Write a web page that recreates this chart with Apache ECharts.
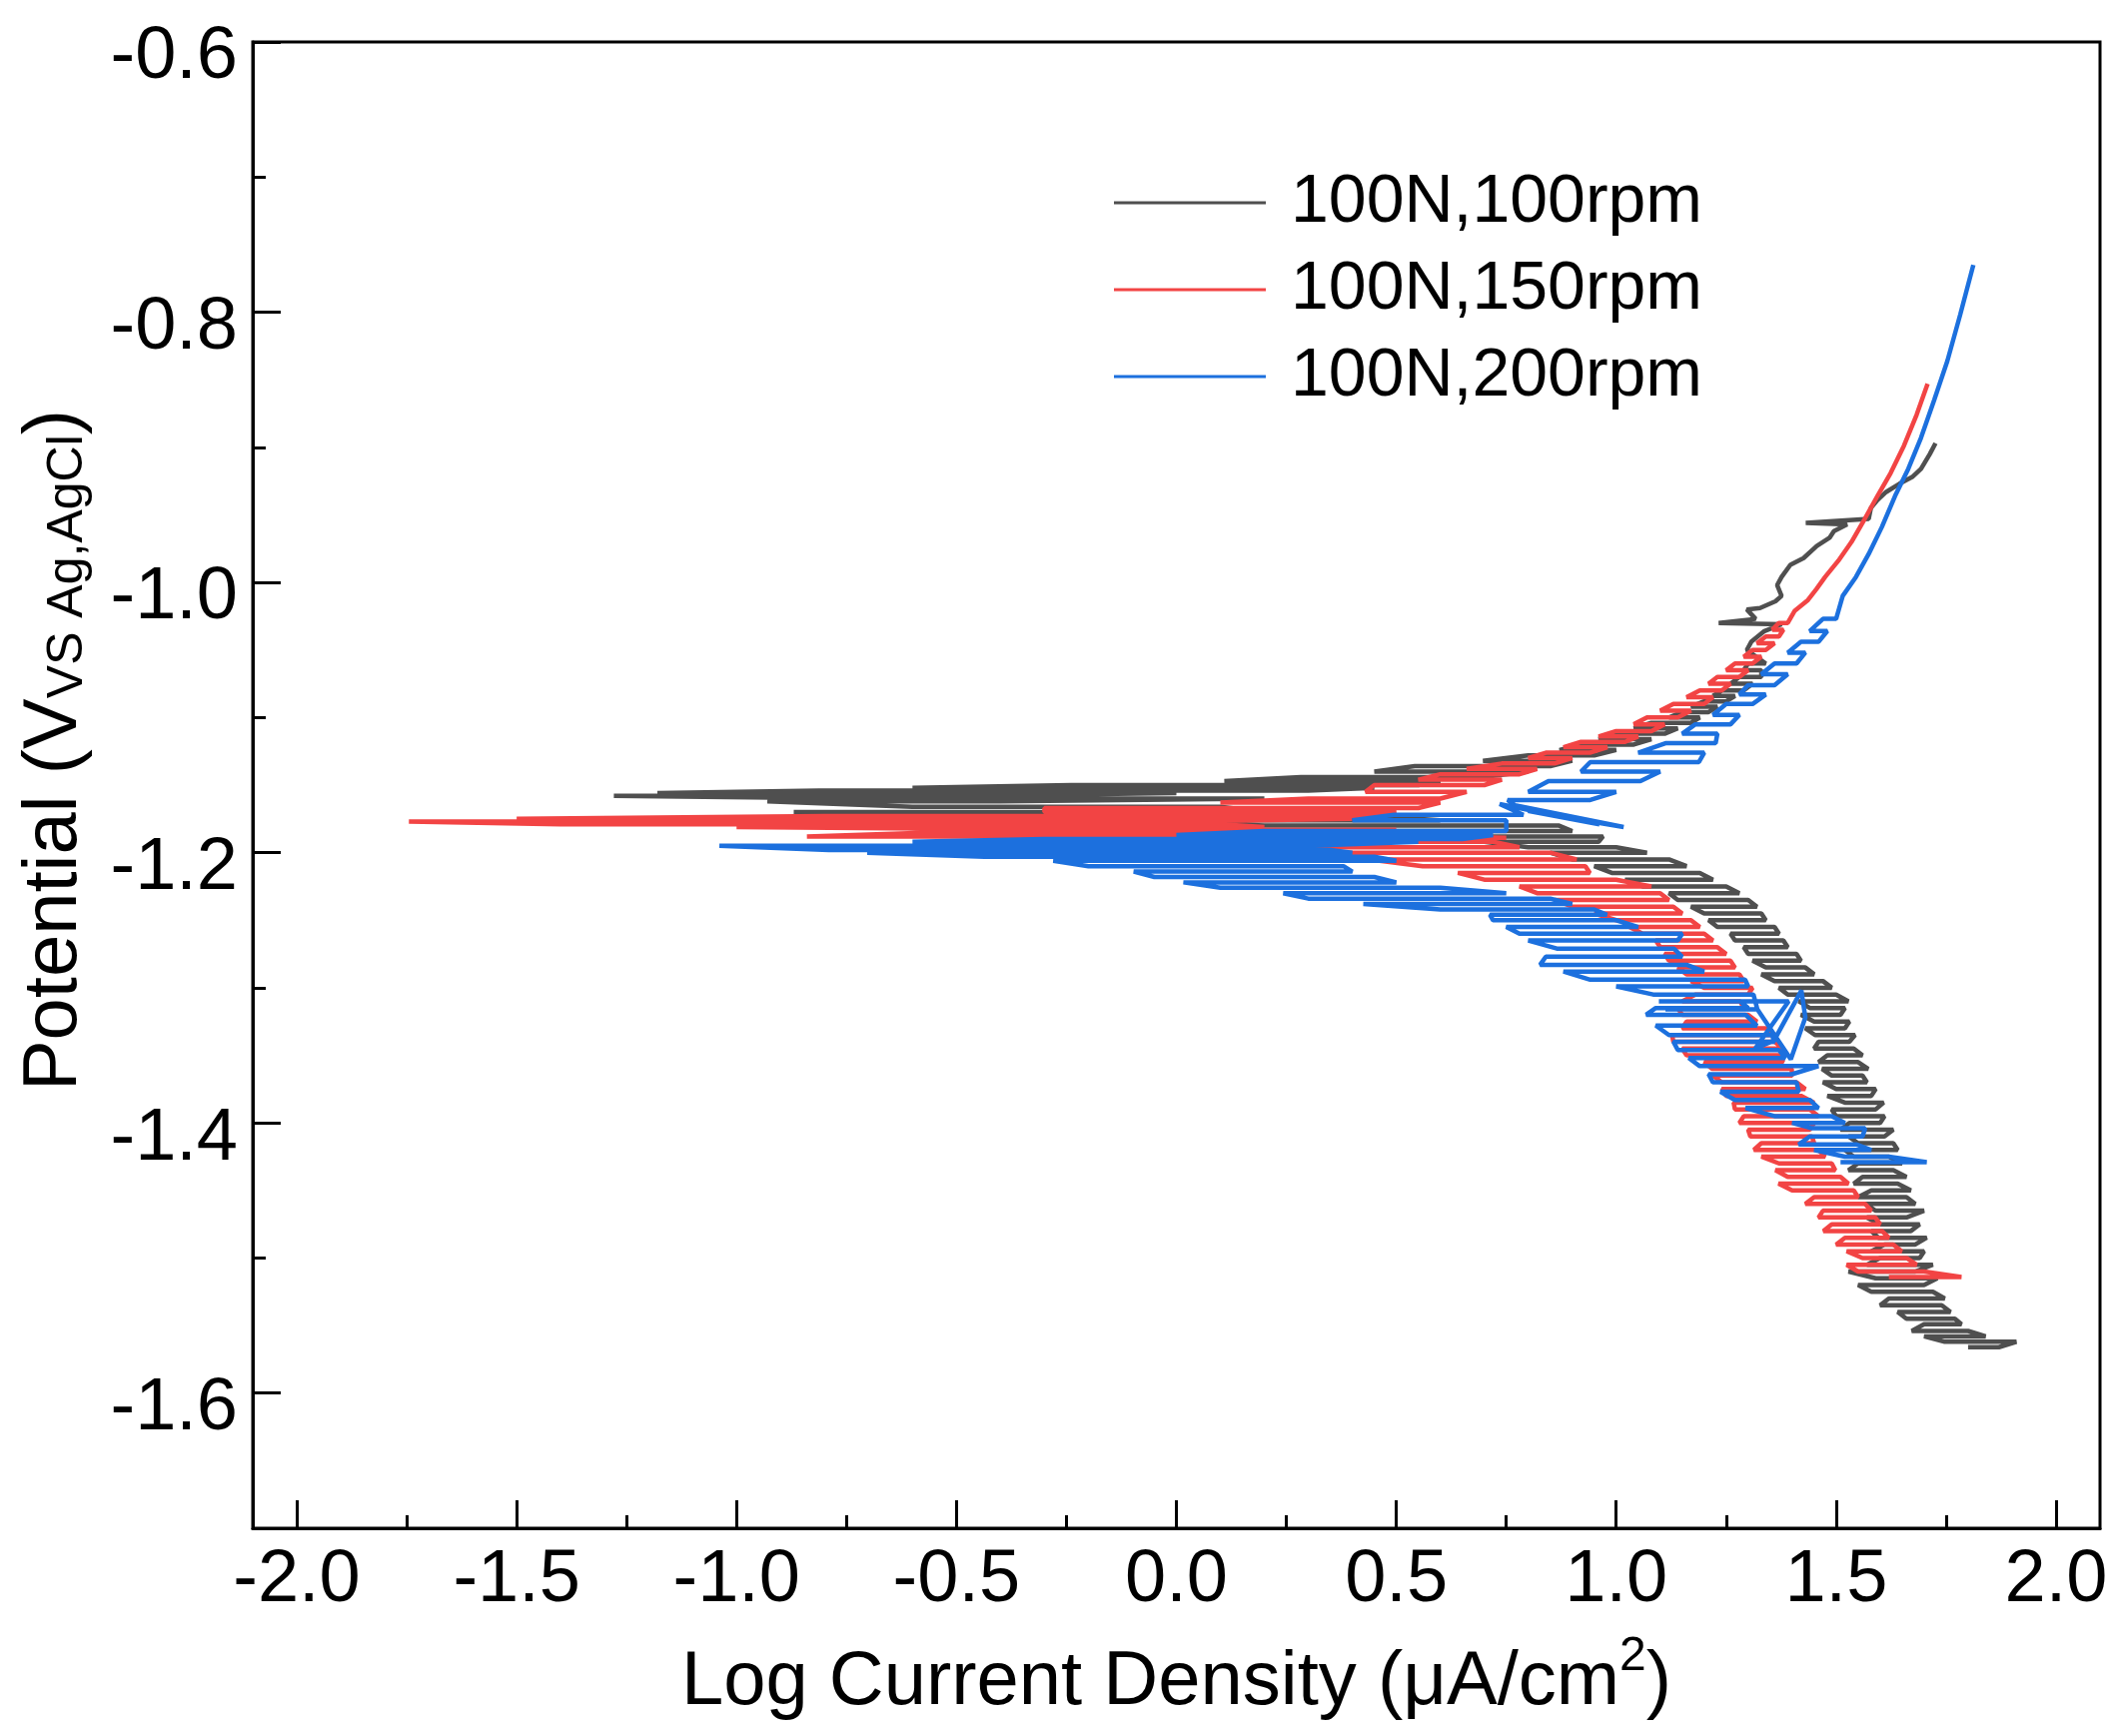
<!DOCTYPE html>
<html>
<head>
<meta charset="utf-8">
<title>Tafel curves</title>
<script src="https://cdn.jsdelivr.net/npm/echarts@6/dist/echarts.min.js"></script>
<style>
  html, body { margin: 0; padding: 0; background: #fff; }
  #chart { width: 2127px; height: 1738px; }
</style>
</head>
<body>
<div id="chart"></div>
<script>
// tick positions
var xMajorTicks = [-2.0, -1.5, -1.0, -0.5, 0.0, 0.5, 1.0, 1.5, 2.0];
var xMinorTicks = [-1.75, -1.25, -0.75, -0.25, 0.25, 0.75, 1.25, 1.75];
var yMajorTicks = [-1.6, -1.4, -1.2, -1.0, -0.8, -0.6];
var yMinorTicks = [-1.7, -1.5, -1.3, -1.1, -0.9, -0.7];

var seriesNames = ['100N,100rpm', '100N,150rpm', '100N,200rpm'];

// bands are [potential, left log i, right log i], read level by level
var black100Cathodic = [
  [-1.566, 1.80, 1.87], [-1.562, 1.747, 1.910], [-1.558, 1.70, 1.84], [-1.554, 1.672, 1.80],
  [-1.549, 1.70, 1.785], [-1.545, 1.66, 1.77], [-1.540, 1.64, 1.76], [-1.535, 1.60, 1.74],
  [-1.530, 1.62, 1.747], [-1.525, 1.58, 1.72], [-1.520, 1.55, 1.70], [-1.515, 1.59, 1.73],
  [-1.510, 1.528, 1.68], [-1.505, 1.57, 1.72], [-1.500, 1.60, 1.69], [-1.495, 1.58, 1.70],
  [-1.490, 1.61, 1.68], [-1.485, 1.596, 1.706], [-1.480, 1.58, 1.67], [-1.475, 1.60, 1.69],
  [-1.470, 1.57, 1.66], [-1.465, 1.59, 1.70], [-1.460, 1.566, 1.68], [-1.455, 1.55, 1.66],
  [-1.450, 1.58, 1.67], [-1.445, 1.54, 1.64], [-1.440, 1.56, 1.66], [-1.435, 1.528, 1.63],
  [-1.430, 1.55, 1.65], [-1.425, 1.54, 1.62], [-1.420, 1.52, 1.64], [-1.415, 1.55, 1.63],
  [-1.410, 1.528, 1.61], [-1.405, 1.51, 1.63], [-1.400, 1.53, 1.60], [-1.395, 1.50, 1.61],
  [-1.390, 1.49, 1.59], [-1.385, 1.52, 1.608], [-1.380, 1.48, 1.58], [-1.375, 1.50, 1.59],
  [-1.370, 1.47, 1.57], [-1.365, 1.49, 1.56], [-1.360, 1.468, 1.573], [-1.355, 1.46, 1.55],
  [-1.350, 1.48, 1.56], [-1.345, 1.45, 1.54], [-1.340, 1.46, 1.53], [-1.335, 1.452, 1.543],
  [-1.330, 1.43, 1.52], [-1.325, 1.45, 1.53], [-1.320, 1.42, 1.51], [-1.315, 1.44, 1.52],
  [-1.310, 1.415, 1.528], [-1.305, 1.39, 1.50], [-1.300, 1.37, 1.49], [-1.295, 1.36, 1.47],
  [-1.290, 1.33, 1.45], [-1.285, 1.34, 1.43], [-1.280, 1.31, 1.42], [-1.275, 1.30, 1.41],
  [-1.270, 1.29, 1.39], [-1.265, 1.27, 1.38], [-1.260, 1.26, 1.37], [-1.255, 1.23, 1.36],
  [-1.250, 1.21, 1.34], [-1.245, 1.20, 1.33], [-1.240, 1.17, 1.32], [-1.235, 1.14, 1.30],
  [-1.230, 1.12, 1.28], [-1.225, 1.06, 1.25], [-1.220, 1.02, 1.22], [-1.215, 0.99, 1.19],
  [-1.210, 0.95, 1.16], [-1.205, 0.90, 1.12], [-1.200, 0.85, 1.07], [-1.196, 0.80, 1.00],
  [-1.192, 0.70, 0.96], [-1.188, 0.60, 0.97], [-1.184, 0.40, 0.90], [-1.180, 0.20, 0.87],
  [-1.176, -0.10, 0.60], [-1.172, -0.50, 0.40], [-1.170, -0.87, 0.20], [-1.166, -0.60, 0.10],
  [-1.162, -0.93, -0.40], [-1.160, -0.715, 0.20], [-1.158, -1.279, -0.50], [-1.156, -1.18, 0.00],
  [-1.154, -0.813, 0.30], [-1.152, -0.60, 0.45], [-1.150, -0.239, 0.55], [-1.147, 0.109, 0.60],
  [-1.144, 0.283, 0.70], [-1.140, 0.45, 0.80], [-1.136, 0.542, 0.85], [-1.132, 0.697, 0.90],
  [-1.128, 0.80, 0.95], [-1.124, 0.871, 1.00], [-1.120, 0.92, 1.04], [-1.116, 0.96, 1.08],
  [-1.112, 1.00, 1.11], [-1.108, 1.04, 1.14], [-1.104, 1.08, 1.17], [-1.100, 1.12, 1.19],
  [-1.096, 1.15, 1.21], [-1.092, 1.17, 1.23], [-1.088, 1.20, 1.25], [-1.084, 1.22, 1.27],
  [-1.080, 1.24, 1.29], [-1.075, 1.26, 1.31], [-1.070, 1.28, 1.33], [-1.065, 1.29, 1.33],
  [-1.060, 1.30, 1.34]
];
var black100Anodic = [
  [1.297, -1.050], [1.307, -1.044], [1.337, -1.036], [1.376, -1.031], [1.233, -1.030],
  [1.317, -1.027], [1.297, -1.020], [1.327, -1.019], [1.362, -1.014], [1.376, -1.010],
  [1.366, -1.002], [1.376, -0.996], [1.396, -0.987], [1.426, -0.982], [1.456, -0.973],
  [1.485, -0.967], [1.495, -0.962], [1.525, -0.957], [1.431, -0.956], [1.574, -0.953],
  [1.579, -0.945], [1.594, -0.939], [1.614, -0.933], [1.644, -0.927], [1.673, -0.922],
  [1.693, -0.916], [1.713, -0.905], [1.726, -0.897]
];

var red150Cathodic = [
  [-1.514, 1.62, 1.785], [-1.510, 1.55, 1.70], [-1.505, 1.524, 1.683], [-1.500, 1.56, 1.66],
  [-1.495, 1.524, 1.649], [-1.490, 1.50, 1.63], [-1.485, 1.52, 1.62], [-1.480, 1.471, 1.604],
  [-1.475, 1.49, 1.60], [-1.470, 1.46, 1.589], [-1.465, 1.47, 1.58], [-1.460, 1.43, 1.566],
  [-1.455, 1.45, 1.55], [-1.450, 1.40, 1.54], [-1.445, 1.369, 1.528], [-1.440, 1.39, 1.51],
  [-1.435, 1.362, 1.498], [-1.430, 1.37, 1.49], [-1.425, 1.33, 1.475], [-1.420, 1.313, 1.46],
  [-1.415, 1.33, 1.45], [-1.410, 1.305, 1.445], [-1.405, 1.30, 1.44], [-1.400, 1.28, 1.45],
  [-1.395, 1.29, 1.46], [-1.390, 1.27, 1.44], [-1.385, 1.267, 1.45], [-1.380, 1.25, 1.42],
  [-1.375, 1.24, 1.43], [-1.370, 1.24, 1.41], [-1.365, 1.22, 1.40], [-1.360, 1.218, 1.399],
  [-1.355, 1.20, 1.38], [-1.350, 1.16, 1.37], [-1.345, 1.15, 1.38], [-1.340, 1.13, 1.36],
  [-1.335, 1.127, 1.362], [-1.330, 1.15, 1.34], [-1.325, 1.16, 1.32], [-1.320, 1.15, 1.30],
  [-1.315, 1.14, 1.29], [-1.310, 1.150, 1.282], [-1.305, 1.18, 1.30], [-1.300, 1.20, 1.31],
  [-1.295, 1.17, 1.29], [-1.290, 1.16, 1.28], [-1.285, 1.14, 1.27], [-1.280, 1.12, 1.26],
  [-1.275, 1.11, 1.25], [-1.270, 1.10, 1.23], [-1.265, 1.09, 1.22], [-1.260, 1.06, 1.20],
  [-1.255, 1.03, 1.19], [-1.250, 1.00, 1.17], [-1.245, 0.95, 1.15], [-1.240, 0.90, 1.13],
  [-1.235, 0.86, 1.12], [-1.230, 0.82, 1.10], [-1.225, 0.78, 1.08], [-1.220, 0.70, 1.00],
  [-1.215, 0.64, 0.94], [-1.210, 0.56, 0.93], [-1.205, 0.44, 0.91], [-1.200, 0.30, 0.85],
  [-1.196, 0.20, 0.78], [-1.192, 0.10, 0.72], [-1.189, 0.37, 0.75], [-1.188, -0.84, 0.60],
  [-1.185, -0.54, 0.30], [-1.183, -0.22, 0.50], [-1.181, -1.00, 0.20], [-1.179, -1.40, 0.10],
  [-1.177, -1.745, 0.00], [-1.175, -1.50, 0.40], [-1.173, -0.80, 0.45], [-1.170, -0.30, 0.50],
  [-1.167, -0.30, 0.55], [-1.163, 0.10, 0.60], [-1.160, 0.30, 0.60], [-1.155, 0.43, 0.66],
  [-1.150, 0.45, 0.70], [-1.146, 0.55, 0.74], [-1.142, 0.60, 0.78], [-1.138, 0.66, 0.82],
  [-1.134, 0.74, 0.86], [-1.130, 0.80, 0.90], [-1.126, 0.84, 0.94], [-1.122, 0.88, 0.98],
  [-1.118, 0.92, 1.02], [-1.114, 0.96, 1.05], [-1.110, 1.00, 1.08], [-1.105, 1.04, 1.11],
  [-1.100, 1.07, 1.14], [-1.095, 1.10, 1.17], [-1.090, 1.13, 1.20], [-1.085, 1.16, 1.22],
  [-1.080, 1.19, 1.24], [-1.075, 1.21, 1.26], [-1.070, 1.23, 1.28], [-1.065, 1.25, 1.30],
  [-1.060, 1.27, 1.31], [-1.055, 1.29, 1.33], [-1.050, 1.31, 1.34], [-1.045, 1.32, 1.36],
  [-1.040, 1.34, 1.37], [-1.035, 1.355, 1.38], [-1.030, 1.37, 1.39]
];
var red150Anodic = [
  [1.406, -1.021], [1.436, -1.013], [1.455, -1.005], [1.475, -0.996], [1.505, -0.984],
  [1.535, -0.970], [1.565, -0.953], [1.594, -0.936], [1.624, -0.919], [1.654, -0.899],
  [1.683, -0.876], [1.708, -0.853]
];

var blue200Lower = [
  [-1.429, 1.51, 1.706], [-1.425, 1.52, 1.62], [-1.420, 1.45, 1.58], [-1.416, 1.415, 1.547],
  [-1.410, 1.44, 1.56], [-1.404, 1.445, 1.566], [-1.400, 1.40, 1.52], [-1.395, 1.36, 1.49],
  [-1.389, 1.294, 1.460], [-1.383, 1.27, 1.44], [-1.377, 1.237, 1.415], [-1.370, 1.22, 1.41],
  [-1.364, 1.210, 1.399], [-1.358, 1.19, 1.46], [-1.352, 1.165, 1.384], [-1.346, 1.14, 1.37],
  [-1.340, 1.13, 1.36], [-1.335, 1.120, 1.354], [-1.328, 1.09, 1.32], [-1.320, 1.068, 1.294],
  [-1.315, 1.09, 1.30], [-1.310, 1.097, 1.282]
];
var blue200Jumps = [
  [1.392, -1.310], [1.316, -1.345], [1.359, -1.339], [1.421, -1.302], [1.430, -1.322],
  [1.397, -1.353], [1.321, -1.316]
];
var blue200Middle = [
  [-1.316, 1.112, 1.321], [-1.305, 1.084, 1.312], [-1.299, 1.00, 1.30], [-1.294, 0.941, 1.293],
  [-1.288, 0.88, 1.20], [-1.283, 0.827, 1.160], [-1.277, 0.84, 1.15], [-1.271, 0.865, 1.131],
  [-1.265, 0.80, 1.14], [-1.260, 0.780, 1.150], [-1.255, 0.75, 1.05], [-1.250, 0.72, 1.00],
  [-1.246, 0.713, 0.979], [-1.242, 0.60, 0.95], [-1.238, 0.425, 0.90], [-1.234, 0.30, 0.85],
  [-1.230, 0.243, 0.75], [-1.226, 0.10, 0.60], [-1.222, 0.016, 0.50], [-1.218, -0.05, 0.45],
  [-1.214, -0.097, 0.40], [-1.210, -0.20, 0.38], [-1.206, -0.280, 0.50], [-1.203, -0.436, 0.45],
  [-1.200, -0.703, 0.40], [-1.198, -0.790, 0.35], [-1.195, -1.039, 0.30], [-1.192, -0.60, 0.55],
  [-1.190, -0.30, 0.65], [-1.187, 0.00, 0.72], [-1.184, 0.20, 0.75], [-1.176, 0.40, 0.75],
  [-1.172, 0.495, 0.789]
];
var blue200Cross = [
  [0.735, -1.164], [0.962, -1.179], [0.799, -1.169], [1.017, -1.181], [0.770, -1.165]
];
var blue200Upper = [
  [-1.161, 0.753, 0.941], [-1.155, 0.80, 1.00], [-1.147, 0.846, 1.055], [-1.140, 0.92, 1.10],
  [-1.133, 0.941, 1.188], [-1.126, 1.05, 1.20], [-1.119, 1.112, 1.226], [-1.112, 1.15, 1.23],
  [-1.105, 1.18, 1.26], [-1.098, 1.22, 1.28], [-1.090, 1.25, 1.31], [-1.083, 1.28, 1.34],
  [-1.076, 1.30, 1.36], [-1.068, 1.33, 1.39], [-1.060, 1.36, 1.41], [-1.052, 1.39, 1.43],
  [-1.044, 1.42, 1.46], [-1.036, 1.44, 1.48], [-1.027, 1.47, 1.50]
];
var blue200Anodic = [
  [1.515, -1.010], [1.545, -0.996], [1.574, -0.979], [1.604, -0.959], [1.634, -0.936],
  [1.664, -0.916], [1.693, -0.893], [1.723, -0.865], [1.753, -0.836], [1.782, -0.802],
  [1.812, -0.765]
];

// each band level becomes one horizontal stroke, direction alternating
function zigzag(levels) {
  var out = [];
  levels.forEach(function (t, i) {
    if (i % 2) { out.push([t[2], t[0]], [t[1], t[0]]); }
    else { out.push([t[1], t[0]], [t[2], t[0]]); }
  });
  return out;
}

var blackData = zigzag(black100Cathodic).concat(black100Anodic);
var redData = zigzag(red150Cathodic).concat(red150Anodic);
var blueData = zigzag(blue200Lower).concat(blue200Jumps, zigzag(blue200Middle),
  blue200Cross, zigzag(blue200Upper), blue200Anodic);

var colors = ['#4f4f4f', '#f24444', '#1c70de'];
var font = 'Liberation Sans, Arial, sans-serif';

var chart = echarts.init(document.getElementById('chart'));

function axisBase(min, max) {
  return { type: 'value', min: min, max: max, splitLine: { show: false } };
}

var option = {
  animation: false,
  backgroundColor: '#fff',
  grid: {
    left: 253, top: 42, right: 25, bottom: 208,
    show: true, borderColor: '#000', borderWidth: 3, containLabel: false
  },
  legend: {
    orient: 'vertical', left: 1110, top: 164,
    icon: 'rect', itemWidth: 152, itemHeight: 3, itemGap: 19,
    data: seriesNames,
    textStyle: { fontFamily: font, fontSize: 68, lineHeight: 68, color: '#000', padding: [0, 0, 0, 20] }
  },
  xAxis: [
    Object.assign(axisBase(-2.1, 2.1), {
      position: 'bottom',
      axisLine: { show: true, onZero: false, lineStyle: { color: '#000', width: 3 } },
      axisTick: { show: true, inside: true, length: 28, customValues: xMajorTicks, lineStyle: { color: '#000', width: 3 } },
      axisLabel: {
        show: true, customValues: xMajorTicks, margin: 16, color: '#000',
        fontFamily: font, fontSize: 74,
        formatter: function (v) { return v.toFixed(1); }
      },
      name: 'Log Current Density (μA/cm{sup|2})',
      nameLocation: 'middle', nameGap: 105,
      nameTextStyle: {
        fontFamily: font, fontSize: 76, color: '#000',
        rich: { sup: { fontFamily: font, fontSize: 48, color: '#000', verticalAlign: 'top', padding: [0, 0, 52, 0] } }
      }
    }),
    Object.assign(axisBase(-2.1, 2.1), {
      position: 'bottom',
      axisLine: { show: false, onZero: false },
      axisTick: { show: true, inside: true, length: 13, customValues: xMinorTicks, lineStyle: { color: '#000', width: 3 } },
      axisLabel: { show: false }
    })
  ],
  yAxis: [
    Object.assign(axisBase(-1.7, -0.6), {
      position: 'left',
      axisLine: { show: true, onZero: false, lineStyle: { color: '#000', width: 3 } },
      axisTick: { show: true, inside: true, length: 28, customValues: yMajorTicks, lineStyle: { color: '#000', width: 3 } },
      axisLabel: {
        show: true, customValues: yMajorTicks, margin: 15, color: '#000',
        fontFamily: font, fontSize: 74, verticalAlign: 'top', lineHeight: 32,
        formatter: function (v) { return v.toFixed(1); }
      },
      name: 'Potential (V{sub|VS Ag,AgCl})',
      nameLocation: 'middle', nameGap: 160, nameRotate: 90,
      nameTextStyle: {
        fontFamily: font, fontSize: 76, color: '#000', padding: [0, 0, 0, 70],
        rich: { sub: { fontFamily: font, fontSize: 50, color: '#000', verticalAlign: 'bottom', padding: [22, 0, 0, 0] } }
      }
    }),
    Object.assign(axisBase(-1.7, -0.6), {
      position: 'left',
      axisLine: { show: false, onZero: false },
      axisTick: { show: true, inside: true, length: 13, customValues: yMinorTicks, lineStyle: { color: '#000', width: 3 } },
      axisLabel: { show: false }
    })
  ],
  series: [
    { name: seriesNames[0], type: 'line', data: blackData, color: colors[0] },
    { name: seriesNames[1], type: 'line', data: redData, color: colors[1] },
    { name: seriesNames[2], type: 'line', data: blueData, color: colors[2] }
  ].map(function (s) {
    return Object.assign(s, {
      xAxisIndex: 0, yAxisIndex: 0, showSymbol: false, symbol: 'none',
      lineStyle: { width: 4.5, color: s.color }, itemStyle: { color: s.color }
    });
  })
};

chart.setOption(option);
</script>
</body>
</html>
